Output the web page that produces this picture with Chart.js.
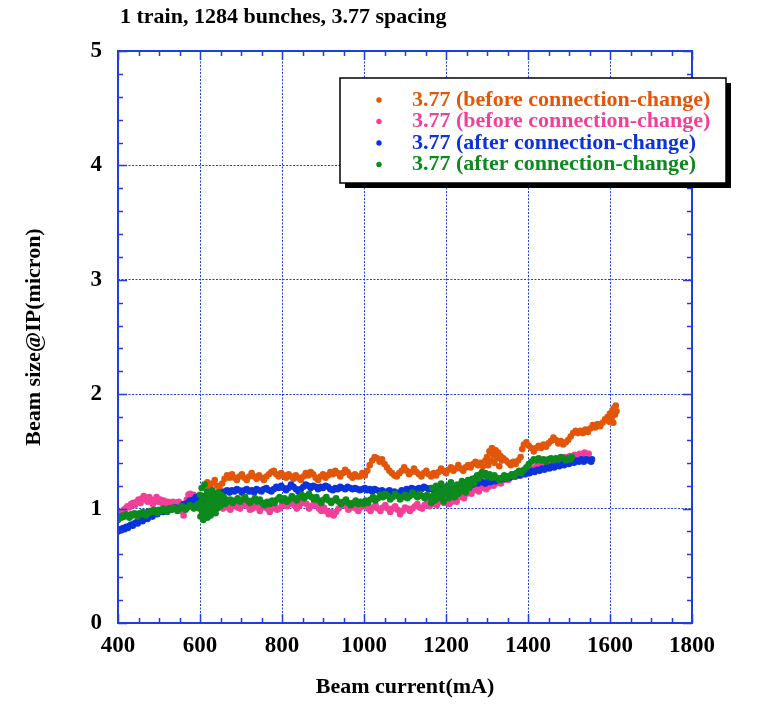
<!DOCTYPE html>
<html>
<head>
<meta charset="utf-8">
<title>Beam size vs beam current</title>
<script src="https://cdn.jsdelivr.net/npm/chart.js@4.4.1/dist/chart.umd.min.js"></script>
<style>
  html, body { margin: 0; padding: 0; background: #fff; }
  #wrap { width: 762px; height: 704px; }
</style>
</head>
<body>
<div id="wrap"><canvas id="beamChart" width="762" height="704"></canvas></div>
<script>
"use strict";

/*---------------------------------------------------
  Data: [beam current (mA), beam size @IP (micron)]
---------------------------------------------------*/
var chartTitle = "1 train, 1284 bunches, 3.77 spacing";
var seriesLabels = [
    "3.77 (before connection-change)",
    "3.77 (before connection-change)",
    "3.77 (after connection-change)",
    "3.77 (after connection-change)"
];
var seriesColors = ["#e2560a", "#f23f98", "#0b33dc", "#0d8a1e"];

var orangeBefore = [
    [612,1.2],[618,1.23],[624,1.19],[630,1.22],[636,1.25],[642,1.2],[648,1.17],[654,1.22],[660,1.26],[666,1.29],
    [672,1.27],[678,1.3],[684,1.27],[690,1.25],[696,1.28],[702,1.3],[708,1.27],[714,1.25],[720,1.28],[726,1.31],
    [732,1.28],[738,1.26],[744,1.29],[750,1.27],[756,1.25],[762,1.28],[768,1.3],[774,1.32],[780,1.33],[786,1.3],
    [792,1.28],[798,1.31],[804,1.29],[810,1.27],[816,1.3],[822,1.28],[828,1.26],[834,1.29],[840,1.27],[846,1.25],
    [852,1.28],[858,1.31],[864,1.29],[870,1.32],[876,1.3],[882,1.27],[888,1.25],[894,1.28],[900,1.3],[906,1.27],
    [912,1.29],[918,1.32],[924,1.3],[930,1.33],[936,1.31],[942,1.28],[948,1.31],[954,1.34],[960,1.32],[966,1.29],
    [972,1.27],[978,1.3],[984,1.28],[990,1.28],[996,1.31],[1002,1.29],[1008,1.33],[1014,1.38],[1020,1.42],[1026,1.45],
    [1032,1.44],[1038,1.41],[1044,1.43],[1050,1.39],[1056,1.36],[1062,1.33],[1068,1.31],[1074,1.29],[1080,1.28],[1086,1.31],
    [1092,1.33],[1098,1.36],[1104,1.33],[1110,1.3],[1116,1.32],[1122,1.35],[1128,1.32],[1134,1.3],[1140,1.28],[1146,1.31],
    [1152,1.33],[1158,1.3],[1164,1.28],[1170,1.31],[1176,1.29],[1182,1.32],[1188,1.35],[1194,1.33],[1200,1.31],[1206,1.34],
    [1212,1.36],[1218,1.33],[1224,1.35],[1230,1.38],[1236,1.35],[1242,1.33],[1248,1.36],[1254,1.38],[1260,1.36],[1266,1.39],
    [1272,1.41],[1278,1.38],[1284,1.4],[1290,1.37],[1296,1.42],[1300,1.45],[1303,1.38],[1306,1.5],[1309,1.42],[1312,1.53],
    [1315,1.47],[1318,1.4],[1321,1.51],[1324,1.44],[1327,1.49],[1330,1.37],[1333,1.46],[1336,1.42],[1340,1.44],[1346,1.42],
    [1352,1.4],[1358,1.38],[1364,1.41],[1370,1.39],[1376,1.42],[1382,1.45],[1386,1.52],[1390,1.56],[1396,1.58],[1402,1.55],
    [1408,1.53],[1414,1.5],[1420,1.53],[1426,1.55],[1432,1.53],[1438,1.56],[1444,1.54],[1450,1.57],[1456,1.59],[1462,1.62],
    [1468,1.6],[1474,1.57],[1480,1.59],[1486,1.56],[1492,1.58],[1498,1.6],[1504,1.63],[1510,1.66],[1516,1.68],[1522,1.66],
    [1528,1.68],[1534,1.66],[1540,1.69],[1546,1.67],[1552,1.7],[1558,1.73],[1564,1.71],[1570,1.74],[1576,1.72],[1582,1.75],
    [1588,1.78],[1594,1.8],[1598,1.76],[1600,1.83],[1604,1.79],[1606,1.86],[1608,1.75],[1610,1.88],[1612,1.82],[1614,1.9],
    [1616,1.85]
];

var pinkBefore = [
    [400,0.93],[405,0.96],[410,0.97],[414,0.99],[418,1.0],[423,1.02],[428,1.01],[432,1.04],[437,1.05],[441,1.03],
    [446,1.06],[450,1.08],[455,1.05],[459,1.09],[463,1.11],[468,1.08],[472,1.06],[476,1.1],[481,1.08],[485,1.04],
    [490,1.07],[494,1.1],[498,1.06],[503,1.08],[507,1.05],[512,1.07],[516,1.04],[521,1.06],[525,1.05],[530,1.03],
    [534,1.06],[539,1.05],[543,1.04],[548,1.06],[552,1.02],[556,0.98],[560,0.94],[564,1.02],[568,1.08],[572,1.12],
    [576,1.13],[580,1.1],[584,1.12],[588,1.11],[592,1.08],[597,1.05],[602,1.03],[607,1.0],[612,1.02],[617,1.05],
    [622,1.01],[628,1.04],[633,1.0],[639,1.03],[645,1.05],[650,1.02],[656,1.0],[662,1.03],[668,1.01],[674,0.99],
    [680,1.02],[686,1.05],[692,1.01],[698,1.0],[704,1.03],[710,1.06],[716,1.02],[722,0.99],[728,1.0],[734,1.04],
    [740,1.01],[746,0.98],[752,1.01],[758,1.04],[764,1.0],[770,0.97],[776,1.0],[782,1.02],[788,0.99],[794,1.0],
    [800,1.03],[806,1.05],[812,1.02],[818,1.04],[824,1.07],[830,1.03],[836,1.0],[842,1.02],[848,1.05],[854,1.08],
    [860,1.04],[866,1.0],[872,1.02],[878,1.05],[884,1.03],[890,1.0],[896,0.98],[902,1.01],[908,0.98],[914,0.95],
    [920,0.97],[926,0.94],[932,0.97],[938,1.0],[944,1.03],[950,1.05],[956,1.02],[962,0.99],[968,1.01],[974,1.04],
    [980,1.0],[986,0.98],[992,1.01],[998,1.04],[1004,1.02],[1010,1.0],[1016,0.98],[1022,1.01],[1028,1.03],[1034,1.0],
    [1040,0.98],[1046,1.01],[1052,1.03],[1058,1.0],[1064,0.97],[1070,1.0],[1076,1.02],[1082,0.99],[1088,0.95],[1094,0.98],
    [1100,1.01],[1106,1.0],[1112,0.98],[1118,1.0],[1124,1.02],[1130,1.04],[1136,1.01],[1142,1.0],[1148,1.03],[1154,1.05],
    [1160,1.02],[1166,1.04],[1172,1.06],[1178,1.03],[1184,1.06],[1190,1.08],[1196,1.05],[1202,1.07],[1208,1.04],[1214,1.06],
    [1220,1.09],[1226,1.06],[1232,1.1],[1238,1.12],[1244,1.09],[1250,1.13],[1256,1.15],[1262,1.13],[1268,1.16],[1274,1.18],
    [1280,1.15],[1286,1.18],[1292,1.2],[1298,1.17],[1304,1.19],[1310,1.22],[1316,1.2],[1322,1.22],[1328,1.24],[1334,1.22],
    [1340,1.25],[1346,1.27],[1352,1.25],[1358,1.28],[1364,1.3],[1370,1.28],[1376,1.31],[1382,1.29],[1388,1.32],[1394,1.3],
    [1400,1.33],[1406,1.35],[1412,1.33],[1418,1.36],[1424,1.38],[1430,1.36],[1436,1.39],[1442,1.37],[1448,1.4],[1454,1.42],
    [1460,1.4],[1466,1.43],[1472,1.41],[1478,1.44],[1484,1.42],[1490,1.45],[1496,1.43],[1502,1.46],[1508,1.44],[1514,1.47],
    [1520,1.45],[1526,1.48],[1532,1.46],[1538,1.49],[1544,1.47],[1548,1.48]
];

var blueAfter = [
    [400,0.8],[404,0.82],[408,0.81],[412,0.83],[416,0.82],[420,0.84],[424,0.83],[428,0.85],[432,0.86],[436,0.85],
    [440,0.87],[444,0.88],[448,0.87],[452,0.89],[456,0.9],[460,0.89],[464,0.91],[468,0.92],[472,0.91],[476,0.93],
    [480,0.94],[484,0.93],[488,0.95],[492,0.96],[496,0.95],[500,0.97],[505,0.98],[510,0.97],[515,0.99],[520,0.98],
    [525,1.0],[530,0.99],[535,1.0],[540,1.01],[545,0.99],[550,1.0],[555,1.02],[560,1.04],[565,1.03],[570,1.05],
    [575,1.07],[580,1.06],[585,1.08],[590,1.1],[595,1.09],[600,1.1],[606,1.08],[612,1.11],[618,1.09],[624,1.12],
    [630,1.1],[636,1.13],[642,1.12],[648,1.14],[654,1.13],[660,1.15],[666,1.16],[672,1.14],[678,1.16],[684,1.15],
    [690,1.17],[696,1.16],[702,1.14],[708,1.16],[714,1.17],[720,1.15],[726,1.16],[732,1.14],[738,1.17],[744,1.16],
    [750,1.15],[756,1.17],[762,1.18],[768,1.16],[774,1.15],[780,1.17],[786,1.19],[792,1.18],[798,1.2],[804,1.18],
    [810,1.16],[816,1.18],[822,1.21],[828,1.19],[834,1.17],[840,1.15],[846,1.17],[852,1.19],[858,1.21],[864,1.2],
    [870,1.18],[876,1.2],[882,1.19],[888,1.17],[894,1.19],[900,1.18],[906,1.2],[912,1.19],[918,1.17],[924,1.16],
    [930,1.18],[936,1.17],[942,1.19],[948,1.18],[954,1.17],[960,1.19],[966,1.18],[972,1.17],[978,1.18],[984,1.17],
    [990,1.16],[996,1.17],[1002,1.18],[1008,1.16],[1014,1.17],[1020,1.15],[1026,1.17],[1032,1.16],[1038,1.15],[1044,1.16],
    [1050,1.14],[1056,1.15],[1062,1.16],[1068,1.14],[1074,1.15],[1080,1.13],[1086,1.14],[1092,1.16],[1098,1.15],[1104,1.17],
    [1110,1.16],[1116,1.18],[1122,1.17],[1128,1.16],[1134,1.18],[1140,1.17],[1146,1.19],[1152,1.18],[1158,1.17],[1164,1.18],
    [1170,1.16],[1176,1.17],[1182,1.18],[1188,1.16],[1194,1.17],[1200,1.18],[1206,1.17],[1212,1.16],[1218,1.18],[1224,1.17],
    [1230,1.19],[1236,1.18],[1242,1.2],[1248,1.19],[1254,1.21],[1260,1.22],[1266,1.21],[1272,1.23],[1278,1.22],[1284,1.24],
    [1290,1.23],[1296,1.22],[1302,1.24],[1308,1.23],[1314,1.25],[1320,1.24],[1326,1.26],[1332,1.25],[1338,1.27],[1344,1.26],
    [1350,1.28],[1356,1.27],[1362,1.29],[1368,1.28],[1374,1.3],[1380,1.29],[1386,1.31],[1392,1.3],[1398,1.32],[1404,1.31],
    [1410,1.33],[1416,1.32],[1422,1.34],[1428,1.33],[1434,1.35],[1440,1.34],[1446,1.36],[1452,1.35],[1458,1.37],[1464,1.36],
    [1470,1.38],[1476,1.37],[1482,1.39],[1488,1.38],[1494,1.4],[1500,1.39],[1506,1.41],[1512,1.4],[1518,1.42],[1524,1.41],
    [1530,1.43],[1536,1.41],[1542,1.43],[1548,1.42],[1554,1.41],[1556,1.43]
];

var greenAfter = [
    [400,0.9],[404,0.93],[408,0.92],[412,0.94],[416,0.93],[420,0.95],[424,0.94],[428,0.92],[432,0.95],[436,0.94],
    [440,0.96],[444,0.95],[448,0.93],[452,0.96],[456,0.95],[460,0.97],[464,0.96],[468,0.94],[472,0.97],[476,0.96],
    [480,0.98],[484,0.97],[488,0.99],[492,0.98],[496,0.96],[500,0.99],[505,0.98],[510,1.0],[515,0.99],[520,0.97],
    [525,1.0],[530,0.99],[535,1.01],[540,1.0],[545,0.98],[550,1.0],[555,1.02],[560,1.01],[565,0.99],[570,1.01],
    [575,1.03],[580,1.02],[585,1.0],[590,1.02],[595,1.04],[598,1.0],[600,1.12],[601,0.93],[603,1.06],[604,1.18],
    [605,0.97],[607,1.09],[608,0.9],[610,1.03],[611,1.21],[612,0.95],[614,1.1],[615,1.0],[617,1.15],[618,0.92],
    [620,1.07],[621,0.98],[623,1.13],[624,1.02],[626,0.94],[627,1.1],[629,1.05],[630,1.16],[632,0.97],[633,1.08],
    [635,1.01],[636,1.12],[638,0.96],[639,1.06],[641,1.1],[642,1.0],[644,1.14],[646,1.04],[648,1.08],[650,1.02],
    [652,1.12],[655,1.06],[658,1.1],[661,1.04],[664,1.08],[668,1.06],[674,1.08],[680,1.05],[686,1.07],[692,1.09],
    [698,1.06],[704,1.08],[710,1.1],[716,1.07],[722,1.05],[728,1.07],[734,1.09],[740,1.06],[746,1.08],[752,1.05],
    [758,1.03],[764,1.06],[770,1.04],[776,1.07],[782,1.05],[788,1.08],[794,1.1],[800,1.07],[806,1.09],[812,1.06],
    [818,1.08],[824,1.11],[830,1.09],[836,1.07],[842,1.1],[848,1.12],[854,1.09],[860,1.11],[866,1.13],[872,1.1],
    [878,1.08],[884,1.1],[890,1.07],[896,1.05],[902,1.08],[908,1.1],[914,1.07],[920,1.05],[926,1.07],[932,1.09],
    [938,1.06],[944,1.04],[950,1.06],[956,1.08],[962,1.05],[968,1.03],[974,1.05],[980,1.07],[986,1.04],[992,1.06],
    [998,1.04],[1004,1.07],[1010,1.05],[1016,1.08],[1022,1.1],[1028,1.07],[1034,1.09],[1040,1.12],[1046,1.1],[1052,1.13],
    [1058,1.11],[1064,1.08],[1070,1.1],[1076,1.13],[1082,1.11],[1088,1.08],[1094,1.1],[1100,1.12],[1106,1.09],[1112,1.11],
    [1118,1.14],[1124,1.12],[1130,1.1],[1136,1.13],[1142,1.11],[1148,1.09],[1154,1.12],[1160,1.1],[1164,1.05],[1167,1.18],
    [1170,1.12],[1173,1.07],[1176,1.2],[1179,1.14],[1182,1.09],[1185,1.16],[1188,1.22],[1191,1.11],[1194,1.06],[1197,1.17],
    [1200,1.13],[1203,1.2],[1206,1.09],[1209,1.15],[1212,1.23],[1215,1.12],[1218,1.18],[1221,1.1],[1224,1.16],[1227,1.21],
    [1230,1.13],[1233,1.19],[1236,1.15],[1239,1.24],[1242,1.17],[1245,1.21],[1248,1.14],[1251,1.2],[1254,1.25],[1257,1.18],
    [1260,1.23],[1264,1.26],[1268,1.22],[1272,1.27],[1276,1.29],[1280,1.26],[1284,1.3],[1288,1.32],[1292,1.29],[1296,1.31],
    [1300,1.28],[1306,1.3],[1312,1.27],[1318,1.29],[1324,1.27],[1330,1.25],[1336,1.27],[1342,1.29],[1348,1.26],[1354,1.28],
    [1360,1.3],[1366,1.28],[1372,1.31],[1378,1.33],[1384,1.31],[1390,1.34],[1396,1.36],[1402,1.39],[1408,1.41],[1414,1.43],
    [1420,1.42],[1426,1.44],[1432,1.42],[1438,1.43],[1444,1.41],[1450,1.43],[1456,1.44],[1462,1.42],[1468,1.44],[1474,1.43],
    [1480,1.45],[1486,1.44],[1492,1.42],[1498,1.44],[1504,1.43],[1507,1.45]
];

var allSeries = [orangeBefore, pinkBefore, blueAfter, greenAfter];

/*---------------------------------------------------
  Styling
---------------------------------------------------*/
var axisBlue = "#1d3fe0";
var serif = "'Liberation Serif', 'Times New Roman', serif";

// chart title, top left
var titlePlugin = {
    id: 'plotTitle',
    afterDraw: function (chart) {
        var ctx = chart.ctx;
        ctx.save();
        ctx.fillStyle = "#000";
        ctx.font = "bold 22px " + serif;
        ctx.textAlign = "left";
        ctx.textBaseline = "middle";
        ctx.fillText(chartTitle, 120, 17);
        ctx.restore();
    }
};

// solid frame + inward major/minor ticks on all four sides
var framePlugin = {
    id: 'frameTicks',
    afterDatasetsDraw: function (chart) {
        var ctx = chart.ctx;
        var a = chart.chartArea;
        var xs = chart.scales.x, ys = chart.scales.y;
        var v, px, py, len;
        ctx.save();
        ctx.strokeStyle = axisBlue;
        ctx.lineWidth = 1.5;
        ctx.beginPath();
        for (v = 400; v <= 1800; v += 50) {
            px = Math.round(xs.getPixelForValue(v)) + 0.5;
            len = (v % 200 === 0) ? 9 : 5;
            ctx.moveTo(px, a.bottom); ctx.lineTo(px, a.bottom - len);
            ctx.moveTo(px, a.top); ctx.lineTo(px, a.top + len);
        }
        for (var i = 0; i <= 25; i++) {
            py = Math.round(ys.getPixelForValue(i * 0.2)) + 0.5;
            len = (i % 5 === 0) ? 9 : 5;
            ctx.moveTo(a.left, py); ctx.lineTo(a.left + len, py);
            ctx.moveTo(a.right, py); ctx.lineTo(a.right - len, py);
        }
        ctx.stroke();
        ctx.lineWidth = 2;
        ctx.strokeRect(a.left, a.top, a.right - a.left, a.bottom - a.top);
        ctx.restore();
    }
};

// boxed legend with drop shadow
var legendPlugin = {
    id: 'boxLegend',
    afterDraw: function (chart) {
        var ctx = chart.ctx;
        var bx = 340, by = 78, bw = 386, bh = 105;
        ctx.save();
        ctx.fillStyle = "#000";
        ctx.fillRect(bx + 5, by + 5, bw, bh);
        ctx.fillStyle = "#fff";
        ctx.fillRect(bx, by, bw, bh);
        ctx.strokeStyle = "#000";
        ctx.lineWidth = 1.5;
        ctx.strokeRect(bx, by, bw, bh);

        ctx.font = "bold 22px " + serif;
        ctx.textAlign = "left";
        ctx.textBaseline = "middle";
        seriesLabels.forEach(function (label, i) {
            var rowY = 100 + i * 21.5;
            ctx.fillStyle = seriesColors[i];
            ctx.beginPath();
            ctx.arc(379, rowY, 2.7, 0, Math.PI * 2);
            ctx.fill();
            ctx.fillText(label, 412, rowY);
        });
        ctx.restore();
    }
};

/*---------------------------------------------------
  Scatter chart
---------------------------------------------------*/
var ctx = document.getElementById("beamChart");
var beamChart = new Chart(ctx, {
    type: 'scatter',
    data: {
        datasets: allSeries.map(function (pts, i) {
            return {
                label: seriesLabels[i],
                data: pts.map(function (p) { return { x: p[0], y: p[1] }; }),
                backgroundColor: seriesColors[i],
                borderWidth: 0,
                pointRadius: 3.3,
                pointHoverRadius: 3.3,
                order: 3 - i
            };
        })
    },
    options: {
        responsive: false,
        animation: false,
        layout: {
            padding: { left: 0, top: 51, right: 70, bottom: 0 }
        },
        plugins: {
            legend: { display: false },
            tooltip: { enabled: false },
            title: { display: false }
        },
        scales: {
            x: {
                type: 'linear',
                min: 400,
                max: 1800,
                afterFit: function (scale) { scale.height = 81; },
                ticks: {
                    stepSize: 200,
                    padding: 9,
                    color: "#000",
                    font: { family: serif, size: 23, weight: 'bold' },
                    callback: function (value) { return String(value); }
                },
                grid: {
                    color: axisBlue,
                    lineWidth: 1,
                    drawTicks: false
                },
                border: { display: false, dash: [2, 1.5] },
                title: {
                    display: true,
                    text: "Beam current(mA)",
                    color: "#000",
                    padding: { top: 3, bottom: 3 },
                    font: { family: serif, size: 22, weight: 'bold' }
                }
            },
            y: {
                type: 'linear',
                min: 0,
                max: 5,
                afterFit: function (scale) { scale.width = 118; },
                ticks: {
                    stepSize: 1,
                    padding: 16,
                    color: "#000",
                    font: { family: serif, size: 23, weight: 'bold' },
                    callback: function (value) { return String(value); }
                },
                grid: {
                    color: axisBlue,
                    lineWidth: 1,
                    drawTicks: false
                },
                border: { display: false, dash: [2, 1.5] },
                title: {
                    display: true,
                    text: "Beam size@IP(micron)",
                    color: "#000",
                    padding: { top: 21, bottom: 0 },
                    font: { family: serif, size: 22, weight: 'bold' }
                }
            }
        }
    },
    plugins: [titlePlugin, framePlugin, legendPlugin]
});
</script>
</body>
</html>
